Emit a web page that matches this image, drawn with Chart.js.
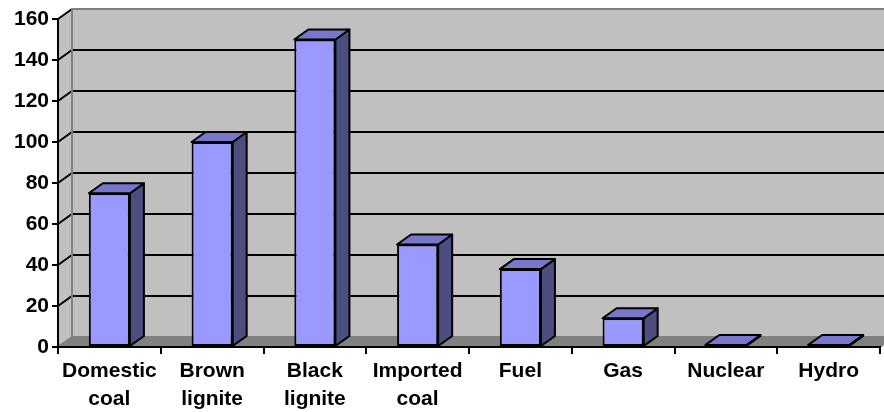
<!DOCTYPE html>
<html>
<head>
<meta charset="utf-8">
<script src="https://cdn.jsdelivr.net/npm/chart.js@4/dist/chart.umd.min.js"></script>
<style>
  html, body { margin: 0; padding: 0; background: #ffffff; }
  #wrap { width: 884px; height: 412px; }
</style>
</head>
<body>
<div id="wrap"><canvas id="chart" width="884" height="412"></canvas></div>
<script>
// Electricity generation by source
const categories = [
  ['Domestic', 'coal'],
  ['Brown', 'lignite'],
  ['Black', 'lignite'],
  ['Imported', 'coal'],
  ['Fuel'],
  ['Gas'],
  ['Nuclear'],
  ['Hydro']
];
const outputValues = [75, 100, 150, 50, 38, 14, 1, 1];
const yMin = 0;
const yMax = 160;
const yStep = 20;

// Depth of the 3D box (horizontal and vertical shift of the back plane)
const DEPTH_X = 14;
const DEPTH_Y = 10;

const COLORS = {
  front: '#9999FF',
  top: '#7777CC',
  side: '#4D4D80',
  wall: '#C0C0C0',
  floor: '#808080',
  edge: '#808080',
  grid: '#000000'
};

const FONT = { family: "'Liberation Sans', Arial, sans-serif", size: 21, weight: 'bold', lineHeight: 1.3 };

function poly(ctx, pts, fill, stroke, lw) {
  ctx.beginPath();
  ctx.moveTo(pts[0][0], pts[0][1]);
  for (let i = 1; i < pts.length; i++) ctx.lineTo(pts[i][0], pts[i][1]);
  ctx.closePath();
  if (fill) { ctx.fillStyle = fill; ctx.fill(); }
  if (stroke) { ctx.strokeStyle = stroke; ctx.lineWidth = lw || 1; ctx.stroke(); }
}

// Walls, floor and depth gridlines behind the columns
const box3d = {
  id: 'box3d',
  beforeDraw(chart) {
    const { ctx, scales } = chart;
    const xs = scales.x, ys = scales.y;
    const L = xs.left, R = xs.right;
    const T = ys.getPixelForValue(yMax), B = ys.getPixelForValue(yMin);
    ctx.save();
    // back wall
    poly(ctx, [[L + DEPTH_X, T - DEPTH_Y], [R + DEPTH_X, T - DEPTH_Y], [R + DEPTH_X, B - DEPTH_Y], [L + DEPTH_X, B - DEPTH_Y]], COLORS.wall);
    // side wall
    poly(ctx, [[L, T], [L + DEPTH_X, T - DEPTH_Y], [L + DEPTH_X, B - DEPTH_Y], [L, B]], COLORS.wall);
    // floor
    poly(ctx, [[L, B], [L + DEPTH_X, B - DEPTH_Y], [R + DEPTH_X, B - DEPTH_Y], [R, B]], COLORS.floor);
    // gridlines: diagonal on the side wall, horizontal on the back wall
    ctx.strokeStyle = COLORS.grid;
    ctx.lineWidth = 2;
    for (let v = yMin + yStep; v <= yMax; v += yStep) {
      const y = ys.getPixelForValue(v);
      ctx.beginPath();
      ctx.moveTo(L, y);
      ctx.lineTo(L + DEPTH_X, y - DEPTH_Y);
      if (v < yMax) ctx.lineTo(R + DEPTH_X, y - DEPTH_Y);
      ctx.stroke();
    }
    // wall edges
    ctx.strokeStyle = COLORS.edge;
    ctx.lineWidth = 2;
    ctx.beginPath();
    ctx.moveTo(L + DEPTH_X, T - DEPTH_Y);
    ctx.lineTo(R + DEPTH_X, T - DEPTH_Y);
    ctx.moveTo(L + DEPTH_X, T - DEPTH_Y);
    ctx.lineTo(L + DEPTH_X, B - DEPTH_Y);
    ctx.lineTo(R + DEPTH_X, B - DEPTH_Y);
    ctx.moveTo(L, B);
    ctx.lineTo(L + DEPTH_X, B - DEPTH_Y);
    ctx.moveTo(R, B);
    ctx.lineTo(R + DEPTH_X, B - DEPTH_Y);
    ctx.stroke();
    ctx.restore();
  },
  // top and side faces of each column
  afterDatasetsDraw(chart) {
    const { ctx } = chart;
    const meta = chart.getDatasetMeta(0);
    ctx.save();
    ctx.lineJoin = 'round';
    meta.data.forEach((bar) => {
      const p = bar.getProps(['x', 'y', 'base', 'width'], true);
      const x0 = p.x - p.width / 2, x1 = p.x + p.width / 2;
      const yt = p.y, yb = p.base;
      poly(ctx, [[x1, yt], [x1 + DEPTH_X, yt - DEPTH_Y], [x1 + DEPTH_X, yb - DEPTH_Y], [x1, yb]], COLORS.side, '#000', 2);
      poly(ctx, [[x0, yt], [x0 + DEPTH_X, yt - DEPTH_Y], [x1 + DEPTH_X, yt - DEPTH_Y], [x1, yt]], COLORS.top, '#000', 2);
    });
    ctx.restore();
  }
};

new Chart(document.getElementById('chart'), {
  type: 'bar',
  data: {
    labels: categories,
    datasets: [{
      data: outputValues,
      backgroundColor: COLORS.front,
      borderColor: '#000000',
      borderWidth: 2,
      borderSkipped: false,
      categoryPercentage: 1,
      barPercentage: 0.4
    }]
  },
  options: {
    responsive: false,
    animation: false,
    devicePixelRatio: 1,
    layout: { padding: { top: 19, right: 4, left: 0, bottom: 0 } },
    plugins: { legend: { display: false }, tooltip: { enabled: false } },
    scales: {
      x: {
        grid: { drawOnChartArea: false, drawTicks: true, tickLength: 7, color: '#000', lineWidth: 2 },
        border: { display: true, color: '#000', width: 2 },
        ticks: { color: '#000', font: FONT, padding: 4, maxRotation: 0, autoSkip: false },
        afterFit(scale) { scale.height = 65; }
      },
      y: {
        min: yMin,
        max: yMax,
        grid: { drawOnChartArea: false, drawTicks: true, tickLength: 6, color: '#000', lineWidth: 2 },
        border: { display: true, color: '#000', width: 2 },
        ticks: { stepSize: yStep, color: '#000', font: FONT, padding: 3 },
        afterFit(scale) { scale.width = 58; }
      }
    }
  },
  plugins: [box3d]
});
</script>
</body>
</html>
